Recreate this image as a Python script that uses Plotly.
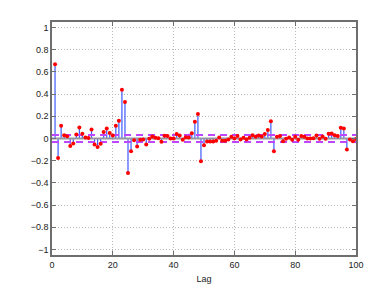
import plotly.graph_objects as go

lags = list(range(1, 101))
acf = [0.67, -0.175, 0.114, 0.03, 0.02, -0.067, -0.045, 0.036, 0.10, 0.042,
       0.008, 0.005, 0.08, -0.054, -0.076, -0.047, 0.058, 0.09, 0.05, 0.028,
       0.115, 0.16, 0.44, 0.33, -0.31, -0.116, -0.015, -0.072, -0.012, -0.01,
       -0.053, -0.003, 0.018, 0.006, 0.003, -0.03, 0.024, 0.023, 0.0, 0.0,
       0.04, 0.028, -0.012, 0.012, 0.01, 0.048, 0.15, 0.22, -0.205, -0.061,
       -0.028, -0.027, -0.026, -0.02, 0.008, -0.02, -0.02, -0.01, 0.015, 0.0,
       0.023, -0.01, 0.006, -0.01, 0.006, 0.03, 0.015, 0.026, 0.018, 0.04,
       0.076, 0.155, -0.114, 0.015, 0.022, -0.024, -0.002, 0.01, -0.012, 0.015,
       -0.012, 0.023, 0.016, 0.0, 0.0, 0.003, 0.026, -0.003, 0.018, -0.003,
       0.042, 0.044, 0.03, 0.023, 0.096, 0.09, -0.1, -0.01, -0.025, -0.005]
conf_bound = 0.031
x_ticks = [0, 20, 40, 60, 80, 100]
y_ticks = [-1, -0.8, -0.6, -0.4, -0.2, 0, 0.2, 0.4, 0.6, 0.8, 1]
y_tick_labels = ["\u22121", "\u22120.8", "\u22120.6", "\u22120.4", "\u22120.2", "0",
                 "0.2", "0.4", "0.6", "0.8", "1"]

stem_x, stem_y = [], []
for lx, v in zip(lags, acf):
    stem_x += [lx, lx, None]
    stem_y += [0, v, None]

fig = go.Figure()
fig.add_trace(go.Scatter(x=stem_x, y=stem_y, mode="lines",
                         line=dict(color="rgb(60,90,255)", width=1.2),
                         hoverinfo="skip", showlegend=False))
# baseline
fig.add_trace(go.Scatter(x=[0, 100], y=[0, 0], mode="lines",
                         line=dict(color="rgb(150,150,160)", width=2),
                         showlegend=False))
# confidence bounds
for b in (conf_bound, -conf_bound):
    fig.add_trace(go.Scatter(x=[0, 100], y=[b, b], mode="lines",
                             line=dict(color="rgb(190,70,255)", width=2, dash="7px,5px"),
                             showlegend=False))
fig.add_trace(go.Scatter(x=lags, y=acf, mode="markers",
                         marker=dict(color="red", size=4),
                         showlegend=False))

axis_common = dict(showline=True, linecolor="rgb(110,110,110)", linewidth=1.5,
                   mirror="ticks", ticks="inside", ticklen=4, tickcolor="rgb(110,110,110)",
                   showgrid=True, gridcolor="rgb(185,185,185)", griddash="1px,2px", gridwidth=1,
                   zeroline=False, tickfont=dict(family="Liberation Sans, Arial", size=9, color="#222"))

fig.update_layout(
    width=392, height=295,
    margin=dict(l=52, r=36, t=22, b=33),
    paper_bgcolor="white", plot_bgcolor="white",
    xaxis=dict(range=[0, 100], tickvals=x_ticks,
               title=dict(text="Lag", font=dict(family="Liberation Sans, Arial", size=9, color="#222"), standoff=7),
               **axis_common),
    yaxis=dict(range=[-1.05, 1.05], tickvals=y_ticks, ticktext=y_tick_labels, **axis_common),
)
fig.write_html("out.html", config={"displayModeBar": False},
               post_script="document.body.style.margin='0';")
